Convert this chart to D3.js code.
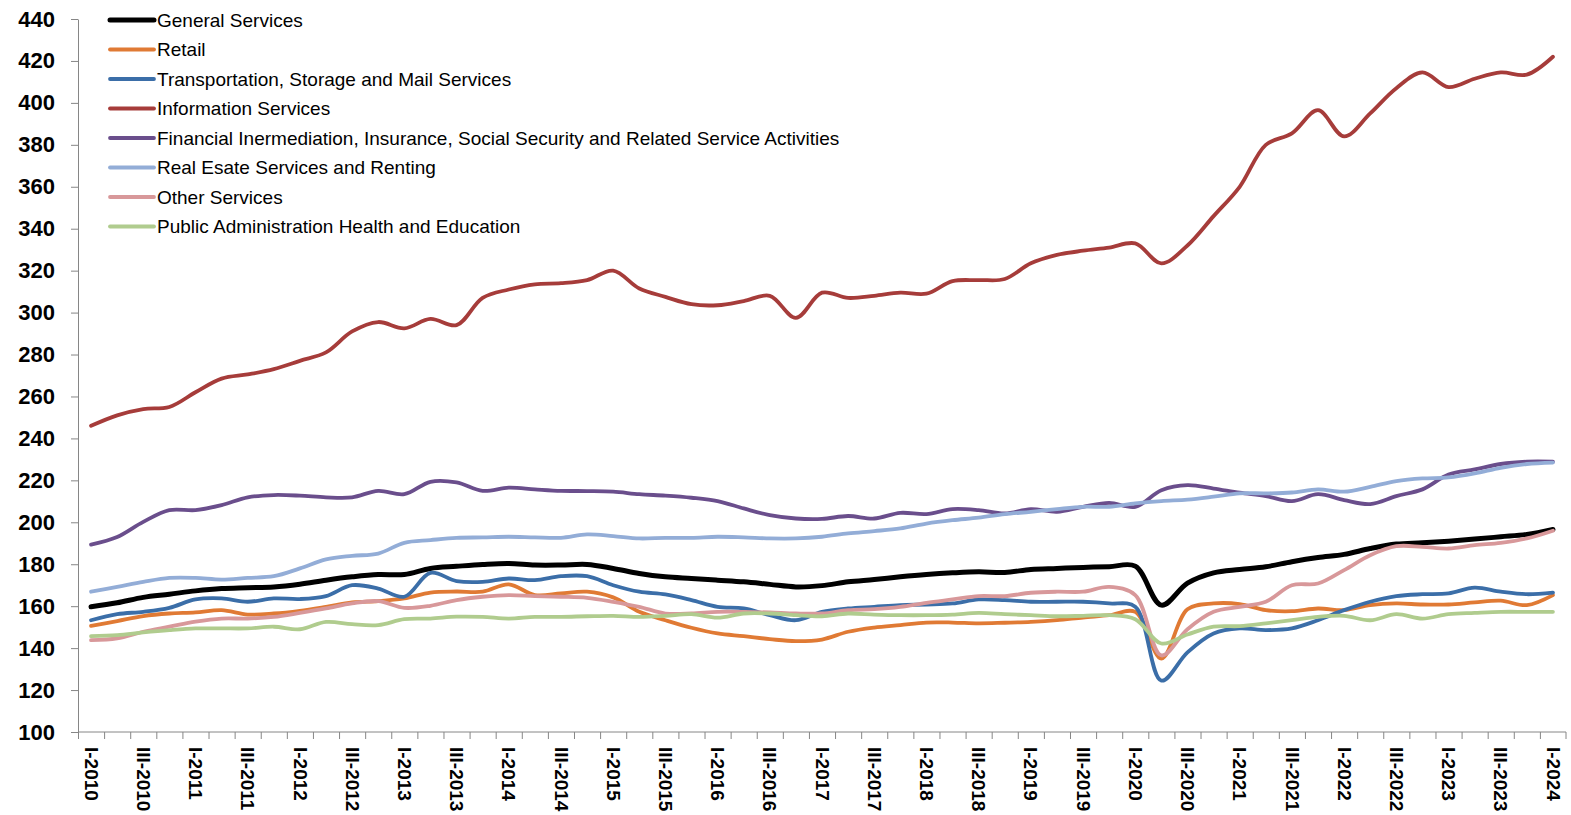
<!DOCTYPE html>
<html lang="en">
<head>
  <meta charset="UTF-8">
  <title>Services index</title>
  <script src="https://d3js.org/d3.v7.min.js"></script>
  <style>
    body { margin: 0; background: #fff; font-family: "Liberation Sans", Arial, sans-serif; }
    .axis path, .axis line { stroke: #868686; }
    .axis text { font-weight: bold; fill: #000; }
    .line { fill: none; stroke-linejoin: round; stroke-linecap: round; }
    .legend text { font-size: 19px; fill: #000; }
  </style>
</head>
<body>
  <svg id="chart" width="1571" height="815"></svg>
  <script>
    // quarters I-2010 .. I-2024
    const romans = ["I", "II", "III", "IV"];
    const quarters = [];
    for (let yr = 2010; yr <= 2024; yr++) {
      for (let q = 0; q < 4; q++) {
        if (yr === 2024 && q > 0) break;
        quarters.push(romans[q] + "-" + yr);
      }
    }

    const yTicks = [100, 120, 140, 160, 180, 200, 220, 240, 260, 280, 300, 320, 340, 360, 380, 400, 420, 440];

    const generalServices = [159.7, 161.6, 164.2, 165.7, 167.3, 168.4, 168.8, 169.2, 170.5, 172.4, 174, 175.1, 175.1, 178, 179,
      179.9, 180.4, 179.6, 179.6, 179.9, 178, 175.6, 174, 173.2, 172.4, 171.6, 170.4, 169.2, 169.8, 171.6,
      172.7, 174, 175.1, 175.9, 176.4, 176.1, 177.5, 178, 178.5, 178.8, 179.1, 160.5, 171, 175.9, 177.5,
      178.8, 181.2, 183.2, 184.7, 187.5, 189.6, 190.2, 191, 192, 193.1, 194.2, 196.6];
    const retail = [150.6, 152.9, 155.3, 156.5, 157, 158.1, 156, 156.5, 157.8, 159.7, 161.8, 162.4, 163.7, 166.5, 167,
      166.9, 170.4, 165.3, 166.1, 166.9, 164.2, 157.3, 153.3, 149.7, 147, 145.7, 144.3, 143.3, 144.1, 147.8,
      149.8, 151, 152.2, 152.2, 151.8, 152.1, 152.5, 153.3, 154.6, 155.7, 157.3, 135, 158.5, 161.3, 161,
      158.1, 157.6, 158.9, 158.1, 160.5, 161.3, 160.8, 160.8, 161.8, 162.6, 160.5, 165.3];
    const transportation = [153.3, 156.2, 157.3, 159.2, 163.2, 163.7, 162.1, 163.7, 163.4, 164.8, 170, 168.4, 164.5, 175.9, 172,
      171.6, 173.2, 172.4, 174.3, 174.3, 170, 166.9, 165.6, 162.9, 159.7, 158.9, 155.7, 153.3, 157.3, 158.9,
      159.7, 160.5, 160.8, 161.3, 163.2, 162.9, 162.1, 162.1, 162.1, 161.3, 159.7, 124.5, 138, 147, 149.4,
      148.6, 149.4, 153.3, 158.1, 162.1, 164.8, 165.7, 166.1, 168.8, 166.9, 165.7, 166.5];
    const information = [246, 251, 254, 255, 262, 268.5, 270.5, 273, 277, 281, 291, 295.5, 292.5, 297, 294,
      307, 311, 313.5, 314, 315.5, 320, 311.5, 307.5, 304, 303.5, 305.5, 308, 297.5, 309.5, 307,
      308, 309.5, 309, 315, 315.5, 316, 323.5, 327.5, 329.5, 331, 333, 323.5, 332, 346, 360,
      380, 385.5, 396.5, 384, 395, 407, 414.5, 407.5, 411.5, 414.5, 413.5, 422];
    const financial = [189.4, 193, 200.2, 205.8, 205.8, 208.2, 211.9, 213, 212.7, 211.9, 211.9, 215, 213.4, 219.3, 219,
      215, 216.5, 215.7, 215, 214.9, 214.6, 213.4, 212.7, 211.7, 210.1, 206.6, 203.4, 201.8, 201.6, 203,
      201.8, 204.5, 203.9, 206.3, 205.8, 204.2, 206.3, 205, 207.4, 209.3, 207.4, 215.3, 217.7, 216.1, 214.1,
      212.5, 210.1, 213.4, 210.6, 208.7, 212.5, 215.7, 222.8, 225.2, 227.8, 228.9, 228.9];
    const realEstate = [166.9, 169.2, 171.6, 173.5, 173.5, 172.7, 173.5, 174.3, 178, 182.3, 184, 185.1, 190.2, 191.5, 192.6,
      192.8, 193.1, 192.8, 192.6, 194.2, 193.4, 192.3, 192.6, 192.6, 193.1, 192.8, 192.3, 192.3, 193.1, 194.7,
      195.8, 197.1, 199.4, 201, 202.2, 203.9, 205, 206.3, 207.4, 207.4, 209, 210.1, 210.8, 212.2, 213.8,
      213.8, 214.2, 215.7, 214.6, 216.9, 219.6, 220.9, 221.4, 223.3, 226, 227.8, 228.5];
    const otherServices = [143.8, 144.6, 147.8, 150.2, 152.6, 154.1, 154.1, 154.9, 156.8, 158.9, 161.3, 162.4, 159.2, 160.2, 162.9,
      164.5, 165.3, 164.8, 164.5, 164, 162.1, 159.7, 156.5, 156.5, 157.3, 157.3, 157, 156.5, 156.5, 158.1,
      158.6, 159.7, 161.6, 163.2, 164.8, 164.8, 166.4, 166.9, 166.9, 169.2, 165.3, 136.5, 149, 157.3, 159.7,
      162.1, 170, 170.8, 177.2, 184.3, 188.6, 188.3, 187.5, 189.1, 190.2, 192.3, 196];
    const publicAdmin = [145.7, 146.2, 147.5, 148.6, 149.4, 149.4, 149.4, 150.2, 149, 152.5, 151.4, 151, 153.8, 154.1, 155,
      154.9, 154.1, 154.9, 154.9, 155.2, 155.4, 154.9, 155.4, 156.2, 154.5, 156.5, 156.5, 155.7, 155.2, 156.5,
      156, 155.7, 155.7, 156, 156.8, 156.2, 155.7, 155.2, 155.4, 155.7, 153.8, 142.2, 146.5, 150.2, 150.5,
      151.8, 153.3, 154.9, 155.4, 153.3, 156.2, 154.1, 156.2, 156.8, 157.3, 157.3, 157.3];

    const series = [
      { name: "General Services", values: generalServices, color: "#000000", width: 5 },
      { name: "Retail", values: retail, color: "#E07A34", width: 3.8 },
      { name: "Transportation, Storage and Mail Services", values: transportation, color: "#3B6EA8", width: 3.8 },
      { name: "Information Services", values: information, color: "#A63C3A", width: 3.8 },
      { name: "Financial Inermediation, Insurance, Social Security and Related Service Activities", values: financial, color: "#6A4E8C", width: 3.8 },
      { name: "Real Esate Services and Renting", values: realEstate, color: "#93ADD7", width: 3.8 },
      { name: "Other Services", values: otherServices, color: "#D8989A", width: 3.8 },
      { name: "Public Administration Health and Education", values: publicAdmin, color: "#B0CC8E", width: 3.8 }
    ];

    const plotLeft = 78, plotRight = 1566, plotTop = 19, plotBottom = 732;
    const svg = d3.select("#chart");

    const xBand = d3.scaleBand().domain(quarters).range([plotLeft, plotRight]);
    const x = d3.scalePoint().domain(quarters).range([plotLeft, plotRight]).padding(0.5);
    const y = d3.scaleLinear().domain([100, 440]).range([plotBottom, plotTop]);

    // y axis
    const yAxis = svg.append("g")
      .attr("class", "axis")
      .attr("transform", `translate(${plotLeft},0)`)
      .call(d3.axisLeft(y).tickValues(yTicks).tickSize(7).tickSizeOuter(0).tickPadding(16));
    yAxis.selectAll("text").style("font-size", "22px");

    // x axis, ticks between categories
    const xAxis = svg.append("g")
      .attr("class", "axis")
      .attr("transform", `translate(0,${plotBottom})`)
      .call(d3.axisBottom(x).tickSize(7).tickSizeOuter(0)
        .tickFormat((d, i) => i % 2 === 0 ? d : ""));
    xAxis.selectAll(".tick line").attr("x1", -xBand.step() / 2).attr("x2", -xBand.step() / 2);
    xAxis.select(".domain").attr("d", `M${plotLeft},0H${plotRight}`);
    xAxis.append("line")
      .attr("x1", xBand.range()[1]).attr("x2", xBand.range()[1])
      .attr("y1", 0).attr("y2", 7).attr("stroke", "#868686");
    xAxis.selectAll(".tick text")
      .style("font-size", "19px")
      .attr("text-anchor", "start")
      .attr("transform", "rotate(90)")
      .attr("x", 15)
      .attr("y", 0)
      .attr("dy", "0.36em");

    // lines
    const line = d3.line()
      .x((d, i) => x(quarters[i]))
      .y(d => y(d))
      .curve(d3.curveCatmullRom.alpha(0.5));

    svg.selectAll(".line")
      .data(series)
      .enter()
      .append("path")
      .attr("class", "line")
      .attr("stroke", d => d.color)
      .attr("stroke-width", d => d.width)
      .attr("d", d => line(d.values));

    // legend
    const legend = svg.append("g").attr("class", "legend");
    const rows = legend.selectAll("g")
      .data(series)
      .enter()
      .append("g")
      .attr("transform", (d, i) => `translate(110,${20 + i * 29.5})`);
    rows.append("line")
      .attr("x1", 0).attr("x2", 44)
      .attr("stroke", d => d.color)
      .attr("stroke-width", d => d.width)
      .attr("stroke-linecap", "round");
    rows.append("text")
      .attr("x", 47)
      .attr("dy", "0.35em")
      .text(d => d.name);
  </script>
</body>
</html>
